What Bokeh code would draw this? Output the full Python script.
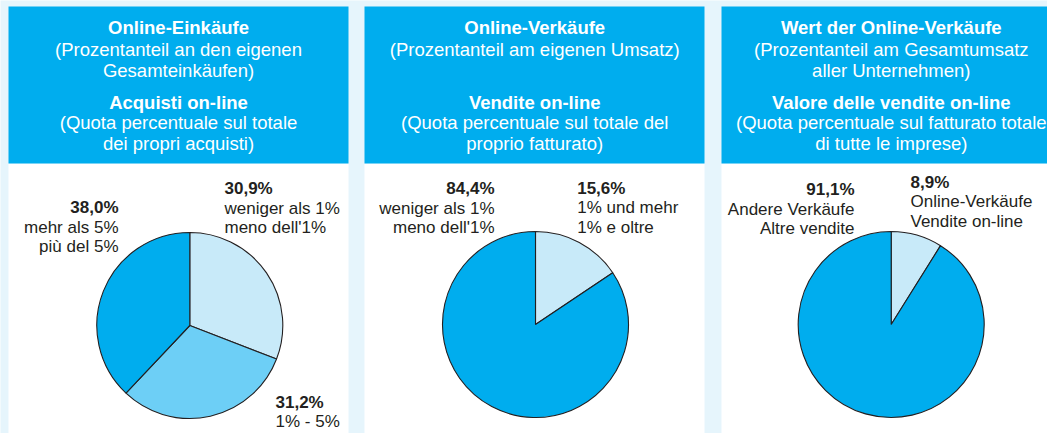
from bokeh.plotting import figure
from bokeh.models import Range1d
from bokeh.core.properties import value
from bokeh.embed import file_html
from bokeh.resources import INLINE

# ---------------- data ----------------
header_title_de = ["Online-Einkäufe", "Online-Verkäufe", "Wert der Online-Verkäufe"]
header_sub_de = [["(Prozentanteil an den eigenen", "Gesamteinkäufen)"],
                 ["(Prozentanteil am eigenen Umsatz)"],
                 ["(Prozentanteil am Gesamtumsatz", "aller Unternehmen)"]]
header_title_it = ["Acquisti on-line", "Vendite on-line", "Valore delle vendite on-line"]
header_sub_it = [["(Quota percentuale sul totale", "dei propri acquisti)"],
                 ["(Quota percentuale sul totale del", "proprio fatturato)"],
                 ["(Quota percentuale sul fatturato totale", "di tutte le imprese)"]]

shares_purchases = [30.9, 31.2, 38.0]
labels_purchases_de = ["weniger als 1%", "1% - 5%", "mehr als 5%"]
labels_purchases_it = ["meno dell'1%", "", "più del 5%"]

shares_sales = [15.6, 84.4]
labels_sales_de = ["1% und mehr", "weniger als 1%"]
labels_sales_it = ["1% e oltre", "meno dell'1%"]

shares_value = [8.9, 91.1]
labels_value_de = ["Online-Verkäufe", "Andere Verkäufe"]
labels_value_it = ["Vendite on-line", "Altre vendite"]

# ---------------- style / layout ----------------
BG = "#e6f5fc"
HEAD = "#00adee"
DARK = "#00adee"
MED = "#6dcff6"
LIGHT = "#c8eaf9"
INK = "#231f20"
FONT = value("Liberation Sans")

W, H = 1047, 433
def Y(y):  # screen y (picture pixels) -> data y
    return H - y

p = figure(width=W, height=H, output_backend="svg", toolbar_location=None,
           x_range=Range1d(0, W), y_range=Range1d(0, H),
           min_border=0, outline_line_color=None, background_fill_color=BG,
           border_fill_color=BG)
p.axis.visible = False
p.grid.visible = False

panel_left = [8, 364, 721]
panel_w = 340
head_top, head_bot = 6, 163

# panels
p.quad(left=[l for l in panel_left], right=[l + panel_w for l in panel_left],
       top=[Y(head_bot)] * 3, bottom=[Y(480)] * 3, fill_color="white", line_color=None)
p.quad(left=[l for l in panel_left], right=[l + panel_w for l in panel_left],
       top=[Y(head_top)] * 3, bottom=[Y(head_bot)] * 3, fill_color=HEAD, line_color=None)

# header texts
centers_x = [178, 534.2, 890.8]
y_title_de, y_sub_de = 27.3, [49, 70]
y_title_it, y_sub_it = 101.7, [122.3, 142.7]
HFS = "18.5px"
for i, cx in enumerate(centers_x):
    p.text(x=[cx], y=[Y(y_title_de)], text=[header_title_de[i]], text_font=FONT,
           text_font_size=HFS, text_font_style="bold", text_color="white",
           text_align="center", text_baseline="middle")
    p.text(x=[cx] * len(header_sub_de[i]), y=[Y(v) for v in y_sub_de[:len(header_sub_de[i])]],
           text=header_sub_de[i], text_font=FONT, text_font_size=HFS, text_color="white",
           text_align="center", text_baseline="middle")
    p.text(x=[cx], y=[Y(y_title_it)], text=[header_title_it[i]], text_font=FONT,
           text_font_size=HFS, text_font_style="bold", text_color="white",
           text_align="center", text_baseline="middle")
    p.text(x=[cx] * len(header_sub_it[i]), y=[Y(v) for v in y_sub_it[:len(header_sub_it[i])]],
           text=header_sub_it[i], text_font=FONT, text_font_size=HFS, text_color="white",
           text_align="center", text_baseline="middle")

# pies
pies = [
    dict(shares=shares_purchases, de=labels_purchases_de, it=labels_purchases_it,
         colors=[LIGHT, MED, DARK], c=(189.3, 325),
         lab=[(224, 188.3, "left"), (275, 401.7, "left"), (118, 207.3, "right")]),
    dict(shares=shares_sales, de=labels_sales_de, it=labels_sales_it,
         colors=[LIGHT, DARK], c=(535, 324),
         lab=[(576.7, 188, "left"), (494, 188.3, "right")]),
    dict(shares=shares_value, de=labels_value_de, it=labels_value_it,
         colors=[LIGHT, DARK], c=(890.7, 324),
         lab=[(910, 181.7, "left"), (854, 189.3, "right")]),
]
R = 93
LS = 19.4
LFS = "17px"
for pie in pies:
    cx, cy = pie["c"]
    total = sum(pie["shares"])
    cum = 0.0
    starts, ends = [], []
    for s in pie["shares"]:
        starts.append(90 - cum / total * 360)
        cum += s
        ends.append(90 - cum / total * 360)
    n = len(pie["shares"])
    p.wedge(x=[cx] * n, y=[Y(cy)] * n, radius=R, start_angle=starts, end_angle=ends,
            start_angle_units="deg", end_angle_units="deg", direction="clock",
            fill_color=pie["colors"], line_color=INK, line_width=1.1)
    for k, s in enumerate(pie["shares"]):
        lx, ly, al = pie["lab"][k]
        pct = f"{s:.1f}%".replace(".", ",")
        p.text(x=[lx], y=[Y(ly)], text=[pct], text_font=FONT, text_font_size=LFS,
               text_font_style="bold", text_color=INK, text_align=al, text_baseline="middle")
        lines = [t for t in (pie["de"][k], pie["it"][k]) if t]
        p.text(x=[lx] * len(lines), y=[Y(ly + LS * (j + 1)) for j in range(len(lines))],
               text=lines, text_font=FONT, text_font_size=LFS, text_color=INK,
               text_align=al, text_baseline="middle")

open("out.html", "w").write(file_html(p, INLINE))
